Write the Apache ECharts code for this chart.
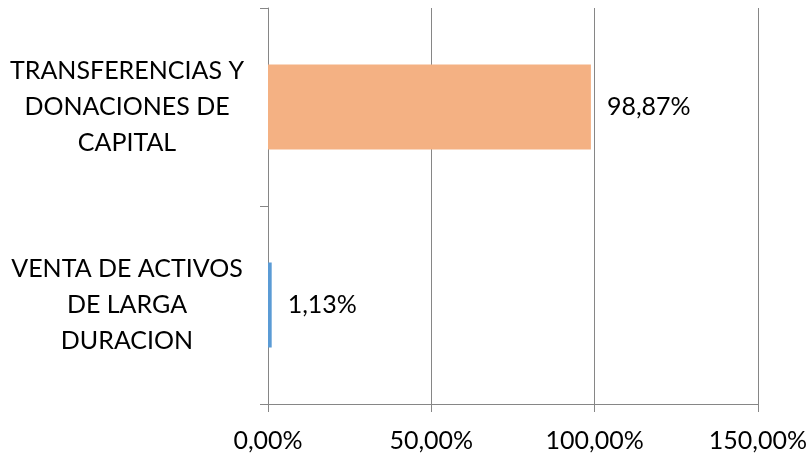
<!DOCTYPE html>
<html>
<head>
<meta charset="utf-8">
<script src="https://cdn.jsdelivr.net/npm/echarts@6/dist/echarts.min.js"></script>
<style>
  html, body { margin: 0; padding: 0; background: #fff; }
  #chart { width: 810px; height: 455px; }
</style>
</head>
<body>
<div id="chart"></div>
<script>
// categories bottom -> top (category y axis starts at the bottom)
var categories = ['VENTA DE ACTIVOS\nDE LARGA\nDURACION', 'TRANSFERENCIAS Y\nDONACIONES DE\nCAPITAL'];
var values = [1.13, 98.87];
var barColors = ['#5B9BD5', '#F4B183'];
var xTicks = [0, 50, 100, 150];

var fmt = function (v) {
    return v.toFixed(2).replace('.', ',') + '%';
};

var chart = echarts.init(document.getElementById('chart'));
var option = {
    animation: false,
    textStyle: { fontFamily: 'Lato' },
    grid: { left: 268, right: 51, top: 8, bottom: 51 },
    xAxis: {
        type: 'value',
        min: xTicks[0],
        max: xTicks[xTicks.length - 1],
        interval: 50,
        axisLine: { show: true, lineStyle: { color: '#868686', width: 1 } },
        axisTick: { show: true, length: 8, lineStyle: { color: '#868686' } },
        splitLine: { show: true, lineStyle: { color: '#868686', width: 1 } },
        axisLabel: {
            fontSize: 25,
            color: '#000',
            margin: 24,
            formatter: fmt
        }
    },
    yAxis: {
        type: 'category',
        data: categories,
        axisLine: { show: true, lineStyle: { color: '#868686', width: 1 } },
        axisTick: { show: true, length: 8, lineStyle: { color: '#868686' } },
        axisLabel: {
            fontSize: 25,
            color: '#000',
            align: 'center',
            margin: 141,
            lineHeight: 36
        }
    },
    series: [{
        type: 'bar',
        barWidth: 85,
        data: values.map(function (v, i) {
            return { value: v, itemStyle: { color: barColors[i] } };
        }),
        label: {
            show: true,
            position: 'right',
            distance: 16,
            fontSize: 25,
            color: '#000',
            formatter: function (p) { return fmt(p.value); }
        }
    }]
};
chart.setOption(option);
</script>
</body>
</html>
